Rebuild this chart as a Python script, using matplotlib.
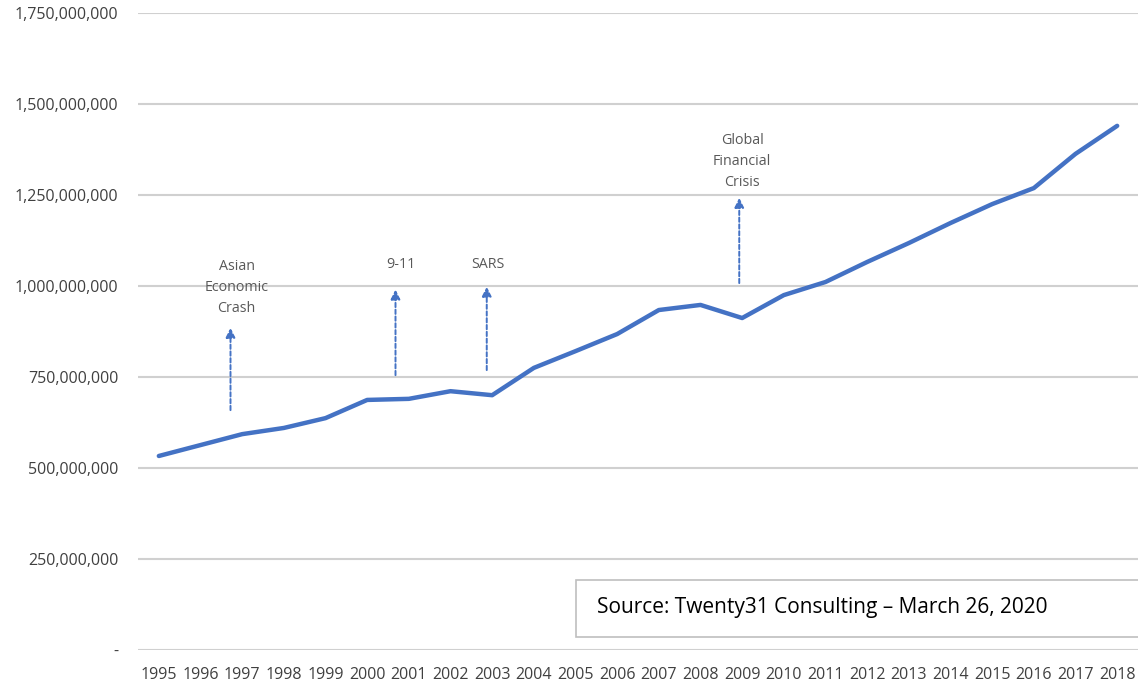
import matplotlib
matplotlib.use("Agg")
import matplotlib.pyplot as plt
from matplotlib.patches import Rectangle

# data
years = list(range(1995, 2019))
arrivals = [533e6, 563e6, 593e6, 610e6, 637e6, 687e6, 690e6, 711e6, 700e6, 775e6,
            821e6, 868e6, 934e6, 948e6, 912e6, 975e6, 1011e6, 1066e6, 1118e6, 1173e6,
            1225e6, 1269e6, 1363e6, 1440e6]

yticks = [0, 250e6, 500e6, 750e6, 1000e6, 1250e6, 1500e6, 1750e6]
ytick_labels = ['-', '250,000,000', '500,000,000', '750,000,000', '1,000,000,000',
                '1,250,000,000', '1,500,000,000', '1,750,000,000']

# event annotations: label, arrow x, arrow start/end, text x, text y
events = ['Asian\nEconomic\nCrash', '9-11', 'SARS', 'Global\nFinancial\nCrisis']
event_x = [1996.72, 2000.68, 2002.87, 2008.93]
arrow_from = [659e6, 755e6, 769e6, 1008e6]
arrow_to = [885e6, 990e6, 998e6, 1242e6]
text_x = [1996.87, 2000.8, 2002.9, 2009.0]
text_y = [997e6, 1058e6, 1058e6, 1343e6]

source_text = 'Source: Twenty31 Consulting \u2013 March 26, 2020'

plt.rcParams['font.family'] = ['Open Sans', 'DejaVu Sans']

fig = plt.figure(figsize=(11.38, 6.81), dpi=100)
ax = fig.add_axes([138 / 1138, 31 / 681, 1000 / 1138, 637 / 681])

ax.plot(years, arrivals, color='#4472C4', lw=3.2, solid_joinstyle='round',
        solid_capstyle='round', zorder=3)

ax.set_xlim(1994.5, 2018.5)
ax.set_ylim(0, 1750e6)
ax.set_yticks(yticks)
ax.set_yticklabels(ytick_labels)
ax.set_xticks(years)
ax.set_xticklabels([str(y) for y in years])
ax.tick_params(axis='y', length=0, labelsize=11.5, colors='#404040', pad=14)
ax.tick_params(axis='x', length=0, labelsize=11.5, colors='#404040', pad=12)
ax.grid(axis='y', color='#d0d0d0', lw=1.5)
ax.set_axisbelow(True)
for s in ax.spines.values():
    s.set_visible(False)

for lab, x, y0, y1, tx, ty in zip(events, event_x, arrow_from, arrow_to, text_x, text_y):
    ax.annotate('', xy=(x, y1), xytext=(x, y0),
                arrowprops=dict(arrowstyle='-|>', color='#4472C4', lw=1.4,
                                linestyle=(0, (2.2, 1.3)), mutation_scale=14,
                                shrinkA=0, shrinkB=0))
    ax.text(tx, ty, lab, ha='center', va='center', fontsize=10.3,
            color='#595959', linespacing=1.55)

# source box
fig.patches.append(Rectangle((576 / 1138, 1 - 637 / 681), 600 / 1138, 57 / 681,
                             transform=fig.transFigure, fill=True, facecolor='white',
                             edgecolor='#bfbfbf', lw=1.2, zorder=5))
fig.text(597 / 1138, 1 - 607 / 681, source_text, fontsize=15, color='black',
         va='center', ha='left', zorder=6)

fig.savefig('out.png', dpi=100)
